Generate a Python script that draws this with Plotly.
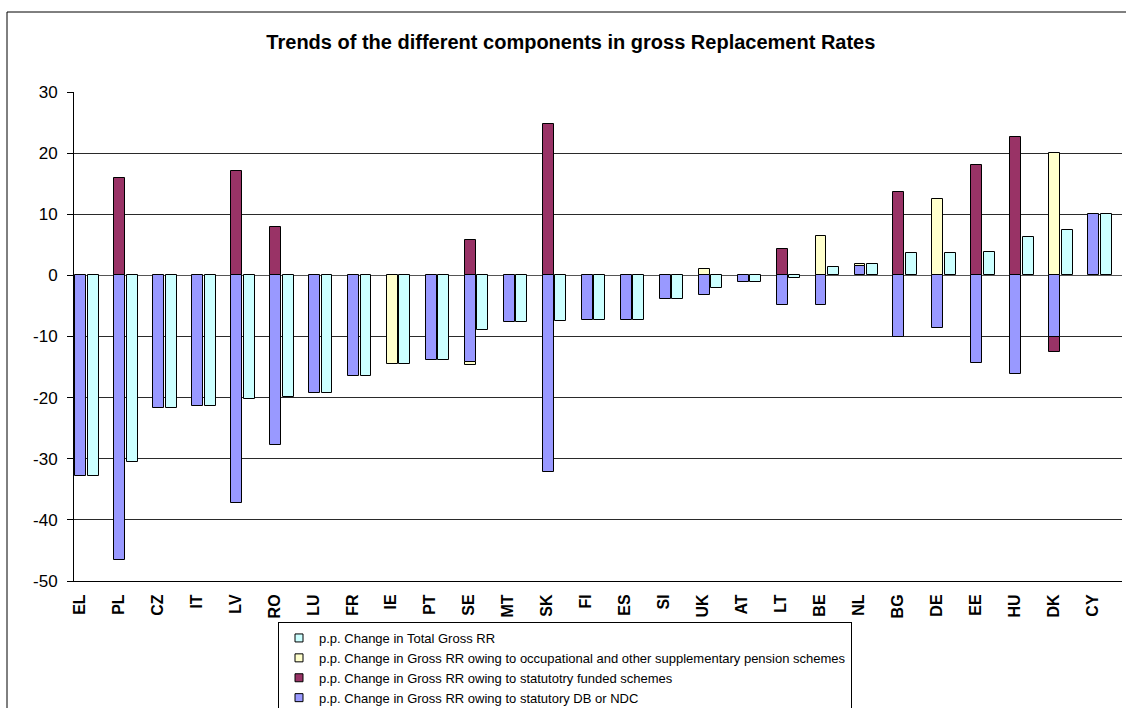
import plotly.graph_objects as go

# Countries, ordered by change in total gross replacement rate
countries = ["EL", "PL", "CZ", "IT", "LV", "RO", "LU", "FR", "IE", "PT", "SE", "MT", "SK",
             "FI", "ES", "SI", "UK", "AT", "LT", "BE", "NL", "BG", "DE", "EE", "HU", "DK", "CY"]

# p.p. change in gross RR owing to statutory DB or NDC
statutory_db = [-32.9, -46.5, -21.7, -21.4, -37.2, -27.7, -19.3, -16.5, None, -13.8, -14.2, -7.7, -32.2,
                -7.3, -7.3, -3.9, -3.2, -1.1, -4.9, -4.9, 1.5, -10.0, -8.6, -14.3, -16.2, -10.0, 10.0]
# p.p. change in gross RR owing to statutory funded schemes
statutory_funded = [None, 15.9, None, None, 17.0, 7.9, None, None, None, None, 5.8, None, 24.8,
                    None, None, None, None, None, 4.3, None, None, 13.6, None, 18.1, 22.6, -2.6, None]
# p.p. change in gross RR owing to occupational and other supplementary schemes
occupational = [None, None, None, None, None, None, None, None, -14.5, None, -0.5, None, None,
                None, None, None, 1.1, None, None, 6.4, 0.4, None, 12.5, None, None, 20.0, None]
# p.p. change in total gross RR
total_rr = [-32.9, -30.6, -21.7, -21.4, -20.2, -19.9, -19.3, -16.5, -14.5, -13.8, -9.0, -7.7, -7.5,
            -7.3, -7.3, -3.9, -2.0, -1.1, -0.5, 1.4, 1.9, 3.6, 3.7, 3.9, 6.3, 7.5, 10.0]

y_ticks = [30, 20, 10, 0, -10, -20, -30, -40, -50]
y_tick_labels = [str(v) for v in y_ticks]

names = {
    "total": "p.p. Change in Total Gross RR",
    "occ": "p.p. Change in Gross RR owing to occupational and other supplementary pension schemes",
    "funded": "p.p. Change in Gross RR owing to statutotry funded schemes",
    "db": "p.p. Change in Gross RR owing to statutory DB or NDC",
}
colors = {"db": "#9999FF", "funded": "#993366", "occ": "#FFFFCC", "total": "#CCFFFF"}

FONT = "Arial, Liberation Sans, sans-serif"
pos = list(range(len(countries)))
outline = dict(color="#000000", width=1)
BAR_W = 0.28

fig = go.Figure()

# Stacked components (left bar of each pair)
for key, vals in [("db", statutory_db), ("funded", statutory_funded), ("occ", occupational)]:
    fig.add_trace(go.Bar(
        x=pos, y=vals, name=names[key], showlegend=False,
        marker=dict(color=colors[key], line=outline),
        width=BAR_W, offset=-0.30, xaxis="x", yaxis="y",
    ))

# Total change (right bar of each pair), on an overlaid axis so it does not stack
fig.add_trace(go.Bar(
    x=pos, y=total_rr, name=names["total"], showlegend=False,
    marker=dict(color=colors["total"], line=outline),
    width=BAR_W, offset=0.02, xaxis="x2", yaxis="y",
))

# Legend entries with small square keys
for key in ["total", "occ", "funded", "db"]:
    fig.add_trace(go.Scatter(
        x=[None], y=[None], mode="markers", name=names[key],
        marker=dict(symbol="square", size=8, color=colors[key],
                    line=dict(color="#000000", width=1)),
    ))

x_range = [-0.334, 26.566]
tick_pos = [p - 0.19 for p in pos]

fig.update_layout(
    width=1126, height=708,
    paper_bgcolor="white", plot_bgcolor="white",
    barmode="relative", bargap=0,
    font=dict(family=FONT, color="#000000"),
    margin=dict(l=74, r=4, t=92, b=127, autoexpand=False),
    title=dict(
        text="<b>Trends of the different components in gross Replacement Rates</b>",
        font=dict(size=20, family=FONT, color="#000000"),
        xref="container", yref="container", x=0.507, y=1 - 42 / 708,
        xanchor="center", yanchor="middle",
    ),
    xaxis=dict(
        range=x_range, tickmode="array", tickvals=tick_pos, ticktext=countries,
        tickangle=-90, tickfont=dict(size=16, family=FONT, weight="bold"),
        showgrid=False, zeroline=False, showline=True, linecolor="#000000", linewidth=1,
        ticks="", ticklabelstandoff=6,
    ),
    xaxis2=dict(range=x_range, overlaying="x", visible=False, showgrid=False, zeroline=False),
    yaxis=dict(
        range=[-50, 30], tickmode="array", tickvals=y_ticks, ticktext=y_tick_labels,
        tickfont=dict(size=17, family=FONT),
        showgrid=True, gridcolor="#2a2a2a", gridwidth=1,
        zeroline=True, zerolinecolor="#555555", zerolinewidth=1,
        showline=True, linecolor="#000000", linewidth=1,
        ticks="outside", ticklen=6, tickcolor="#000000", ticklabelstandoff=6,
    ),
    legend=dict(
        x=(278 - 74) / 1048, y=-(622 - 581) / 489, xanchor="left", yanchor="top",
        xref="paper", yref="paper",
        bordercolor="#000000", borderwidth=1, bgcolor="white",
        font=dict(size=13, family=FONT, color="#000000"),
        itemsizing="trace", tracegroupgap=0,
    ),
    shapes=[
        # outer chart frame
        dict(type="rect", xref="paper", yref="paper",
             x0=(7 - 74) / 1048, x1=(1140 - 74) / 1048,
             y0=(581 - 720) / 489, y1=(581 - 12) / 489,
             line=dict(color="#000000", width=1), fillcolor="rgba(0,0,0,0)", layer="below"),
    ],
)

fig.write_html("out.html")
